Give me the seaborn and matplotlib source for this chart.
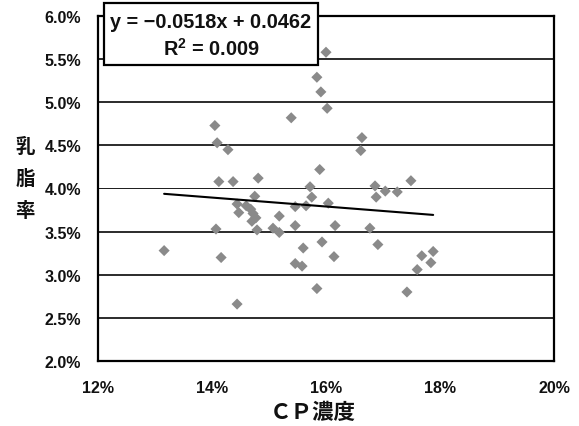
import numpy as np
import pandas as pd
import matplotlib
matplotlib.use("Agg")
import matplotlib.pyplot as plt
from matplotlib.patches import Rectangle
from matplotlib.ticker import PercentFormatter, MultipleLocator
import seaborn as sns

# CP concentration (%) and milk fat ratio (%) per sample
cp_pct = [13.16, 14.05, 14.09, 14.28, 15.39, 14.12, 14.37, 14.81, 14.75, 14.44,
          14.47, 14.60, 14.68, 14.72, 14.77, 14.70, 14.79, 15.18, 15.07, 15.18,
          15.46, 15.46, 14.07, 14.16, 14.44, 15.46, 16.61, 15.89, 15.72, 15.75,
          15.65, 16.04, 16.16, 16.77, 15.60, 15.93, 16.14, 15.58, 15.84, 16.86,
          16.88, 17.04, 17.25, 16.91, 17.49, 17.68, 17.88, 17.84, 17.60, 17.42,
          16.00, 15.84, 15.91, 16.02, 16.63]
fat_pct = [3.28, 4.73, 4.53, 4.45, 4.82, 4.08, 4.08, 4.12, 3.91, 3.82,
           3.72, 3.80, 3.76, 3.71, 3.66, 3.62, 3.52, 3.68, 3.54, 3.49,
           3.79, 3.57, 3.53, 3.20, 2.66, 3.13, 4.44, 4.22, 4.02, 3.90,
           3.80, 3.83, 3.57, 3.54, 3.31, 3.38, 3.21, 3.10, 2.84, 4.03,
           3.90, 3.97, 3.96, 3.35, 4.09, 3.22, 3.27, 3.14, 3.06, 2.80,
           5.58, 5.29, 5.12, 4.93, 4.59]

# linear trend reported on the chart
slope = -0.0518
intercept = 0.0462
r_squared = 0.009

x_ticks = [0.12, 0.14, 0.16, 0.18, 0.20]
x_label = "ＣＰ濃度"
y_label = "乳脂率"

df = pd.DataFrame({"cp": np.array(cp_pct) / 100, "fat": np.array(fat_pct) / 100})

sns.set_style("white")
plt.rcParams["font.family"] = ["Liberation Sans", "Noto Sans CJK JP", "DejaVu Sans"]
plt.rcParams["mathtext.fontset"] = "custom"
plt.rcParams["mathtext.bf"] = "Liberation Sans:bold"
plt.rcParams["mathtext.rm"] = "Liberation Sans:bold"

W, H = 579, 427
fig = plt.figure(figsize=(W / 100, H / 100), dpi=100)
L, R, T, B = 98, 554, 17, 362
ax = fig.add_axes([L / W, 1 - B / H, (R - L) / W, (B - T) / H])

ax.set_xlim(0.12, 0.20)
ax.set_ylim(0.02, 0.06)

# horizontal gridlines (the 4.0% line is drawn thinner)
for yv in np.arange(0.025, 0.0600, 0.005):
    lw = 0.7 if abs(yv - 0.04) < 1e-9 else 1.3
    ax.axhline(yv, color="#1a1a1a", lw=lw, zorder=1)

sns.scatterplot(data=df, x="cp", y="fat", ax=ax, marker="D", s=32,
                color="#8a8a8a", edgecolor="none", linewidth=0, zorder=3)

# trend line over the observed CP range
xs = np.array([df["cp"].min(), df["cp"].max()])
trend = pd.DataFrame({"cp": xs, "fat": slope * xs + intercept})
sns.lineplot(data=trend, x="cp", y="fat", ax=ax, color="black", lw=1.5, zorder=4)

ax.xaxis.set_major_locator(MultipleLocator(0.02))
ax.yaxis.set_major_locator(MultipleLocator(0.005))
ax.xaxis.set_major_formatter(PercentFormatter(1.0, decimals=0))
ax.yaxis.set_major_formatter(PercentFormatter(1.0, decimals=1))
ax.set_xticks(x_ticks)
ax.tick_params(axis="x", direction="in", length=5, width=1.3, color="black",
               pad=14, labelsize=11.5)
ax.tick_params(axis="y", length=0, pad=12, labelsize=11.5)
for lab in ax.get_xticklabels() + ax.get_yticklabels():
    lab.set_fontweight("bold")
    lab.set_color("#111111")

for sp in ax.spines.values():
    sp.set_visible(True)
    sp.set_color("black")
    sp.set_linewidth(1.6)

ax.set_xlabel("")
ax.set_ylabel("")

# axis titles
fig.text(313 / W, 1 - 413 / H, x_label, ha="center", va="center",
         fontsize=15.5, fontweight="bold", family=["Noto Sans CJK JP"],
         color="#111111")
for i, ch in enumerate(y_label):
    fig.text(25 / W, 1 - (147 + 32.5 * i) / H, ch, ha="center", va="center",
             fontsize=14, fontweight="bold", family=["Noto Sans CJK JP"],
             color="#111111")

# regression equation box
bx0, by0, bx1, by1 = 104, 4, 318, 66
box = Rectangle((bx0 / W, 1 - by1 / H), (bx1 - bx0) / W, (by1 - by0) / H,
                transform=fig.transFigure, facecolor="white", edgecolor="black",
                lw=1.6, zorder=10)
fig.add_artist(box)
cx = (bx0 + bx1) / 2 / W
fig.text(cx, 1 - 23 / H, f"y = \u2212{abs(slope):.4f}x + {intercept:.4f}",
         ha="center", va="center", fontsize=14.3, fontweight="bold",
         color="#111111", zorder=11)
fig.text(cx, 1 - 49 / H, f"R$^{{\\mathbf{{2}}}}$ = {r_squared:.3f}",
         ha="center", va="center", fontsize=14.3, fontweight="bold",
         color="#111111", zorder=11)

fig.savefig("out.png", dpi=100)
